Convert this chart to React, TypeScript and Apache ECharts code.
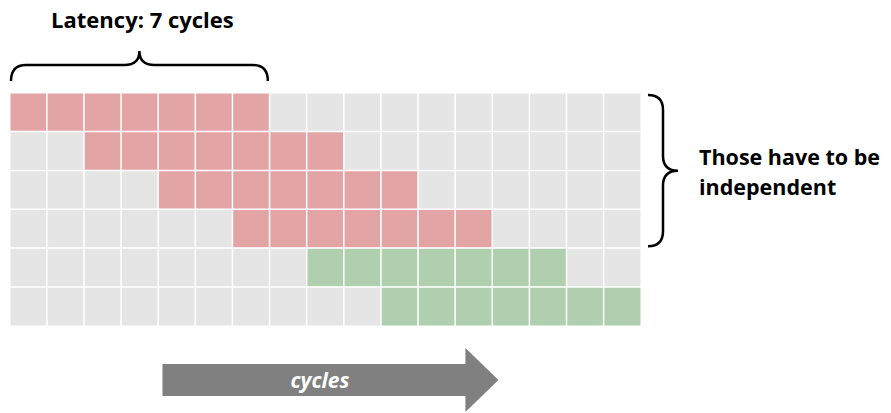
import React, { useEffect, useRef } from "react";
import * as echarts from "echarts";

// ---- data ----
const cycleCategories: string[] = Array.from({ length: 17 }, (_, i) => String(i));
const instructionRows: string[] = ["i0", "i1", "i2", "i3", "i4", "i5"];
const rowStartCycle: number[] = [0, 2, 4, 6, 8, 10];
const rowKind: string[] = ["dep", "dep", "dep", "dep", "indep", "indep"];
const latencyCycles = 7;
const latencyLabel = "Latency: 7 cycles";
const braceLabelLines: string[] = ["Those have to be", "independent"];
const arrowLabel = "cycles";

const KIND_CODE: Record<string, number> = { idle: 0, dep: 1, indep: 2 };
const COLORS: Record<string, string> = {
  dep: "#E3A4A5",
  indep: "#B0CFAF",
  idle: "#E5E5E5",
};

export default function App() {
  const ref = useRef<HTMLDivElement>(null);
  useEffect(() => {
    document.body.style.margin = "0";
    if (!ref.current) return;
    const chart = echarts.init(ref.current, null, { renderer: "svg" });

    const data: number[][] = [];
    instructionRows.forEach((_, r) => {
      cycleCategories.forEach((_, c) => {
        const busy = c >= rowStartCycle[r] && c < rowStartCycle[r] + latencyCycles;
        const kind = busy ? rowKind[r] : "idle";
        data.push([c, r, KIND_CODE[kind]]);
      });
    });

    const font = "'Open Sans', 'Liberation Sans', sans-serif";

    chart.setOption({
      animation: false,
      grid: { left: 10, right: 250, top: 93, bottom: 87 },
      xAxis: {
        type: "category",
        data: cycleCategories,
        show: false,
      },
      yAxis: {
        type: "category",
        data: instructionRows,
        inverse: true,
        show: false,
      },
      visualMap: {
        type: "piecewise",
        show: false,
        dimension: 2,
        pieces: [
          { value: 0, color: COLORS.idle },
          { value: 1, color: COLORS.dep },
          { value: 2, color: COLORS.indep },
        ],
      },
      series: [
        {
          type: "heatmap",
          data,
          itemStyle: { borderColor: "#ffffff", borderWidth: 1.5 },
          emphasis: { disabled: true },
        },
      ],
    });

    // compute cell edges from axes
    const p0 = chart.convertToPixel({ gridIndex: 0 }, [0, 0]) as number[];
    const p1 = chart.convertToPixel({ gridIndex: 0 }, [1, 1]) as number[];
    const cw = p1[0] - p0[0];
    const rh = p1[1] - p0[1];
    const gridLeft = p0[0] - cw / 2;
    const gridTop = p0[1] - rh / 2;

    // top brace spans first row's latency
    const bx0 = gridLeft + 1;
    const bx1 = gridLeft + latencyCycles * cw - 2;
    const bmid = (bx0 + bx1) / 2;
    const by = gridTop - 28;
    const bEnd = gridTop - 12;
    const r = 15;
    const topD = `M ${bx0} ${bEnd} Q ${bx0} ${by} ${bx0 + r} ${by} L ${bmid - r} ${by} Q ${bmid} ${by} ${bmid} ${by - 14} Q ${bmid} ${by} ${bmid + r} ${by} L ${bx1 - r} ${by} Q ${bx1} ${by} ${bx1} ${bEnd}`;

    // right brace spans dependent rows
    const depRows = rowKind.filter((k) => k === "dep").length;
    const gridRight = gridLeft + cycleCategories.length * cw;
    const ry0 = gridTop + 2;
    const ry1 = gridTop + depRows * rh - 2;
    const rmid = (ry0 + ry1) / 2;
    const rxEnd = gridRight + 7;
    const rx = gridRight + 22;
    const rr = 15;
    const rightD = `M ${rxEnd} ${ry0} Q ${rx} ${ry0} ${rx} ${ry0 + rr} L ${rx} ${rmid - rr} Q ${rx} ${rmid} ${rx + 15} ${rmid} Q ${rx} ${rmid} ${rx} ${rmid + rr} L ${rx} ${ry1 - rr} Q ${rx} ${ry1} ${rxEnd} ${ry1}`;

    echarts.graphic.registerShape("braceTop", echarts.graphic.extendPath(topD, {}) as any);
    echarts.graphic.registerShape("braceRight", echarts.graphic.extendPath(rightD, {}) as any);

    // arrow
    const ax0 = gridLeft + 4 * cw + 4;
    const ax1 = gridLeft + 12 * cw + 10;
    const axTip = ax1 + 33;
    const ayc = 380;
    const bodyH = 16;
    const headH = 32;

    chart.setOption({
      graphic: [
        {
          type: "braceTop",
          x: 0,
          y: 0,
          style: { fill: "none", stroke: "#000000", lineWidth: 2.5 },
        },
        {
          type: "braceRight",
          x: 0,
          y: 0,
          style: { fill: "none", stroke: "#000000", lineWidth: 2.5 },
        },
        {
          type: "text",
          x: bmid + 3,
          y: 19,
          style: {
            text: latencyLabel,
            font: `bold 22px ${font}`,
            fill: "#000000",
            align: "center",
            verticalAlign: "middle",
          },
        },
        {
          type: "text",
          x: 699,
          y: rmid + 1,
          style: {
            text: braceLabelLines.join("\n"),
            font: `bold 21.5px ${font}`,
            lineHeight: 30,
            fill: "#000000",
            align: "left",
            verticalAlign: "middle",
          },
        },
        {
          type: "polygon",
          shape: {
            points: [
              [ax0, ayc - bodyH],
              [ax1, ayc - bodyH],
              [ax1, ayc - headH],
              [axTip, ayc],
              [ax1, ayc + headH],
              [ax1, ayc + bodyH],
              [ax0, ayc + bodyH],
            ],
          },
          style: { fill: "#808080" },
        },
        {
          type: "text",
          x: (ax0 + ax1) / 2 + 6,
          y: ayc,
          style: {
            text: arrowLabel,
            font: `italic bold 21px ${font}`,
            fill: "#ffffff",
            align: "center",
            verticalAlign: "middle",
          },
        },
      ],
    });

    return () => chart.dispose();
  }, []);
  return <div ref={ref} style={{ width: 891, height: 413 }} />;
}
